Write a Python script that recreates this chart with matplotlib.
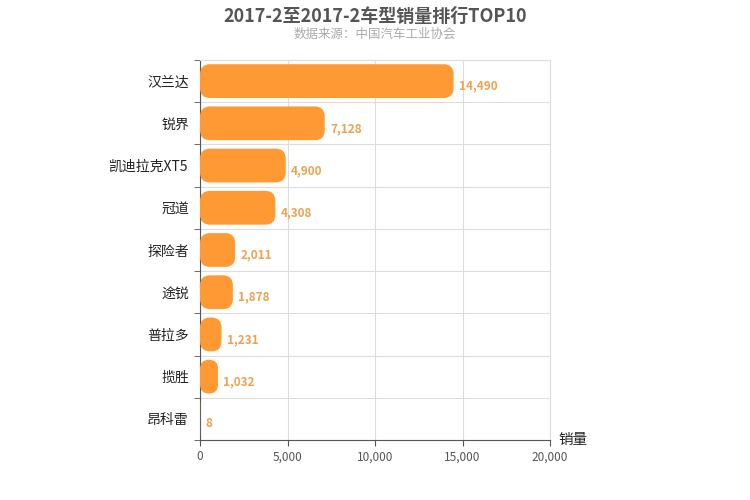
import matplotlib
matplotlib.use("Agg")
import matplotlib.pyplot as plt
from matplotlib.patches import FancyBboxPatch

plt.rcParams['font.family'] = ['Noto Sans CJK SC', 'DejaVu Sans']

categories = ["汉兰达", "锐界", "凯迪拉克XT5", "冠道", "探险者", "途锐", "普拉多", "揽胜", "昂科雷"]
values = [14490, 7128, 4900, 4308, 2011, 1878, 1231, 1032, 8]
xticks = [0, 5000, 10000, 15000, 20000]

fig = plt.figure(figsize=(7.5, 5), dpi=100)
ax = fig.add_axes([200/750, 60/500, 350/750, 380/500])
n = len(categories)
ys = list(range(n))
bars = ax.barh(ys, values, height=0.8, color="none")
ax.set_xlim(0, 20000)
ax.set_ylim(n - 0.5, -0.5)
rx = 570
ry = 0.24
for b, v in zip(bars, values):
    x0, y0, w, h = b.get_x(), b.get_y(), b.get_width(), b.get_height()
    if w > 0:
        r = min(rx, w / 2)
        p = FancyBboxPatch((x0, y0), w, h, boxstyle=f"round,pad=0,rounding_size={r}",
                           mutation_aspect=ry / rx, fc="#FF9933", ec="none", zorder=3)
        ax.add_patch(p)
    ax.text(v + 300, y0 + h / 2 + 0.12, f"{v:,}", color="#F0A050", fontsize=8.5,
            fontweight="bold", va="center", ha="left", zorder=4)

ax.set_yticks(ys)
ax.set_yticklabels(categories, fontsize=10, color="#222222")
ax.set_yticks([i + 0.5 for i in range(-1, n)], minor=True)
ax.tick_params(axis="y", which="major", length=0, pad=8)
ax.tick_params(axis="y", which="minor", length=4, color="#555555")
ax.set_xticks(xticks)
ax.set_xticklabels([f"{t:,}" for t in xticks], fontsize=8.5, color="#555555")
ax.tick_params(axis="x", length=4, color="#555555")
ax.grid(True, which="minor", axis="y", color="#dddddd", lw=0.8, zorder=0)
ax.grid(True, which="major", axis="x", color="#dddddd", lw=0.8, zorder=0)
for s in ["top", "right"]:
    ax.spines[s].set_color("#dddddd")
for s in ["left", "bottom"]:
    ax.spines[s].set_color("#555555")
ax.set_axisbelow(True)

fig.text(0.5, 1 - 16/500, "2017-2至2017-2车型销量排行TOP10", ha="center", va="center",
         fontsize=13, fontweight="bold", color="#555555")
fig.text(0.5, 1 - 34/500, "数据来源：中国汽车工业协会", ha="center", va="center",
         fontsize=9, color="#aaaaaa")
fig.text(573/750, 1 - 440/500, "销量", ha="center", va="center", fontsize=10.5, color="#222222")

fig.savefig("out.png", dpi=100)
